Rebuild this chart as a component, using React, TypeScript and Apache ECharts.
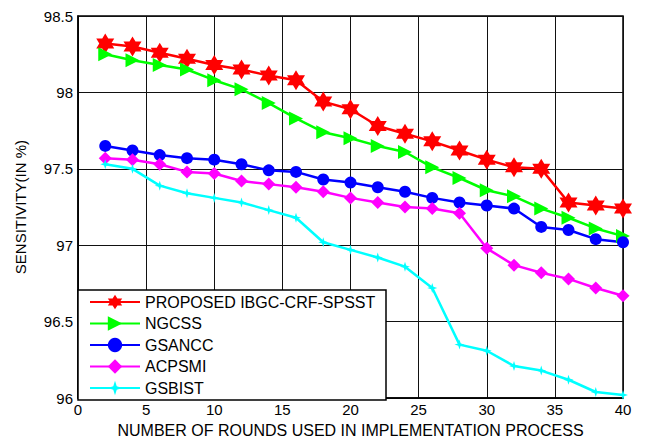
import React, { useEffect, useRef } from "react";
import * as echarts from "echarts";

const rounds = [2, 4, 6, 8, 10, 12, 14, 16, 18, 20, 22, 24, 26, 28, 30, 32, 34, 36, 38, 40];
const proposed = [98.32, 98.30, 98.26, 98.22, 98.18, 98.15, 98.11, 98.08, 97.94, 97.89, 97.78, 97.73, 97.68, 97.62, 97.56, 97.51, 97.50, 97.28, 97.26, 97.24];
const ngcss = [98.25, 98.21, 98.18, 98.15, 98.08, 98.02, 97.93, 97.83, 97.74, 97.70, 97.65, 97.61, 97.51, 97.44, 97.36, 97.32, 97.24, 97.18, 97.11, 97.06];
const gsancc = [97.65, 97.62, 97.59, 97.57, 97.56, 97.53, 97.49, 97.48, 97.43, 97.41, 97.38, 97.35, 97.31, 97.28, 97.26, 97.24, 97.12, 97.10, 97.04, 97.02];
const acpsmi = [97.57, 97.56, 97.53, 97.48, 97.47, 97.42, 97.40, 97.38, 97.35, 97.31, 97.28, 97.25, 97.24, 97.21, 96.98, 96.87, 96.82, 96.78, 96.72, 96.67];
const gsbist = [97.53, 97.50, 97.39, 97.34, 97.31, 97.28, 97.23, 97.18, 97.02, 96.97, 96.92, 96.86, 96.72, 96.35, 96.31, 96.21, 96.18, 96.12, 96.04, 96.02];
const seriesNames = ["PROPOSED IBGC-CRF-SPSST", "NGCSS", "GSANCC", "ACPSMI", "GSBIST"];
const xTitle = "NUMBER OF ROUNDS USED IN IMPLEMENTATION PROCESS";
const yTitle = "SENSITIVITY(IN %)";

const hexagram =
  "path://M100,0 L128.9,50 L186.6,50 L157.7,100 L186.6,150 L128.9,150 L100,200 L71.1,150 L13.4,150 L42.3,100 L13.4,50 L71.1,50 Z";
const star4 = "path://M50,0 L62,38 L100,50 L62,62 L50,100 L38,62 L0,50 L38,38 Z";

const FONT = "'Liberation Sans', Arial, sans-serif";

export default function App() {
  const ref = useRef<HTMLDivElement>(null);
  useEffect(() => {
    if (!ref.current) return;
    const chart = echarts.init(ref.current, undefined, { renderer: "svg" });
    const mk = (name: string, vals: number[], color: string, symbol: string, size: any, rotate = 0) => ({
      name,
      type: "line",
      data: rounds.map((r, i) => [r, vals[i]]),
      symbol,
      symbolSize: size,
      symbolRotate: rotate,
      lineStyle: { color, width: 2.5 },
      itemStyle: { color, borderWidth: 0 },
      z: 3,
    });
    chart.setOption({
      animation: false,
      backgroundColor: "#fff",
      textStyle: { fontFamily: FONT },
      grid: {
        left: 78,
        right: 26,
        top: 16,
        bottom: 43,
        show: true,
        borderColor: "#000",
        borderWidth: 1.5,
        backgroundColor: "transparent",
      },
      xAxis: {
        type: "value",
        min: 0,
        max: 40,
        interval: 5,
        name: xTitle,
        nameLocation: "middle",
        nameGap: 21,
        nameTextStyle: { color: "#000", fontSize: 16, fontFamily: FONT },
        axisLine: { show: true, lineStyle: { color: "#000", width: 1.5 } },
        axisTick: { show: false },
        axisLabel: { color: "#000", fontSize: 15, margin: 4, fontFamily: FONT },
        splitLine: { show: true, lineStyle: { color: "#111", width: 1 } },
      },
      yAxis: {
        type: "value",
        min: 96,
        max: 98.5,
        interval: 0.5,
        name: yTitle,
        nameLocation: "middle",
        nameGap: 50,
        nameTextStyle: { color: "#000", fontSize: 15, fontFamily: FONT },
        axisLine: { show: true, lineStyle: { color: "#000", width: 1.5 } },
        axisTick: { show: false },
        axisLabel: { color: "#000", fontSize: 15, margin: 5, fontFamily: FONT },
        splitLine: { show: true, lineStyle: { color: "#111", width: 1 } },
      },
      graphic: [
        {
          type: "rect",
          z: 50,
          shape: { x: 78, y: 290, width: 308, height: 110 },
          style: { fill: "#fff", stroke: "#000", lineWidth: 1.5 },
        },
      ],
      legend: {
        z: 60,
        orient: "vertical",
        left: 89,
        top: 294,
        padding: 0,
        itemWidth: 50,
        itemHeight: 18,
        itemGap: 5.5,
        textStyle: { color: "#000", fontSize: 16, fontFamily: FONT },
        data: seriesNames,
      },
      series: [
        mk(seriesNames[0], proposed, "#ff0000", hexagram, [18, 20]),
        mk(seriesNames[1], ngcss, "#00ff00", "triangle", 14, -90),
        mk(seriesNames[2], gsancc, "#0000ff", "circle", 12),
        mk(seriesNames[3], acpsmi, "#ff00ff", "diamond", 13),
        mk(seriesNames[4], gsbist, "#00ffff", star4, 10),
      ],
    });
    return () => chart.dispose();
  }, []);
  return <div ref={ref} style={{ width: 649, height: 443, position: "absolute", left: 0, top: 0 }} />;
}
